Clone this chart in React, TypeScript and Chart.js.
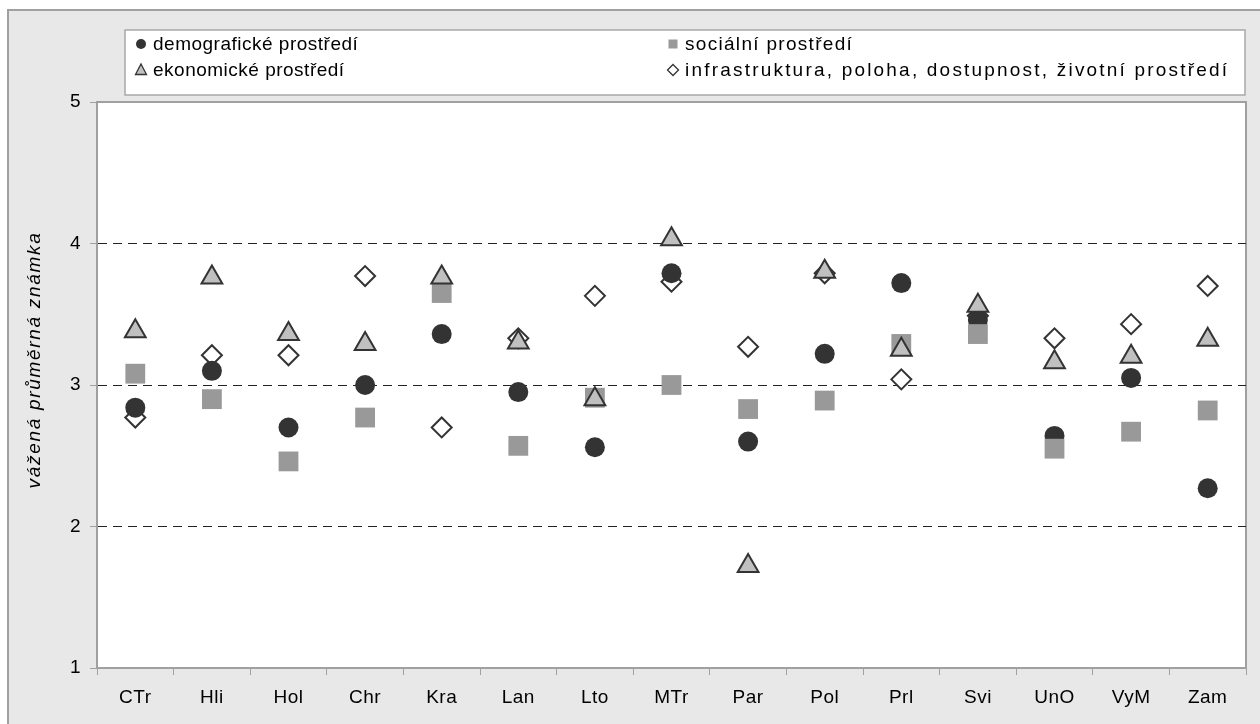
import React, { useEffect, useRef } from 'react';
import { Chart, registerables } from 'chart.js';

Chart.register(...registerables);

const categories = ['CTr', 'Hli', 'Hol', 'Chr', 'Kra', 'Lan', 'Lto', 'MTr', 'Par', 'Pol', 'Prl', 'Svi', 'UnO', 'VyM', 'Zam'];
const demograficke = [2.84, 3.10, 2.70, 3.00, 3.36, 2.95, 2.56, 3.79, 2.60, 3.22, 3.72, 3.46, 2.64, 3.05, 2.27];
const socialni = [3.08, 2.90, 2.46, 2.77, 3.65, 2.57, 2.91, 3.00, 2.83, 2.89, 3.29, 3.36, 2.55, 2.67, 2.82];
const ekonomicke = [3.38, 3.76, 3.36, 3.29, 3.76, 3.30, 2.90, 4.03, 1.72, 3.80, 3.25, 3.56, 3.16, 3.20, 3.32];
const infrastruktura = [2.77, 3.21, 3.21, 3.77, 2.70, 3.33, 3.63, 3.73, 3.27, 3.79, 3.04, 3.49, 3.33, 3.43, 3.70];
const seriesNames = [
  'demografické prostředí',
  'sociální prostředí',
  'ekonomické prostředí',
  'infrastruktura, poloha, dostupnost, životní prostředí',
];
const yTicks = [1, 2, 3, 4, 5];
const yTitle = 'vážená průměrná známka';

const FONT = '"Liberation Sans", Arial, sans-serif';
const legendSpacing = ['0.5px', '1.3px', '0.5px', '2.2px'];

function drawMarker(ctx: CanvasRenderingContext2D, kind: number, x: number, y: number) {
  ctx.save();
  ctx.beginPath();
  if (kind === 0) {
    ctx.fillStyle = '#333333';
    ctx.arc(x, y, 5, 0, Math.PI * 2);
    ctx.fill();
  } else if (kind === 1) {
    ctx.fillStyle = '#999999';
    ctx.fillRect(x - 4.5, y - 4.5, 9, 9);
  } else if (kind === 2) {
    ctx.moveTo(x, y - 6);
    ctx.lineTo(x + 5.5, y + 4.5);
    ctx.lineTo(x - 5.5, y + 4.5);
    ctx.closePath();
    ctx.fillStyle = '#c0c0c0';
    ctx.fill();
    ctx.strokeStyle = '#333333';
    ctx.lineWidth = 1.3;
    ctx.stroke();
  } else {
    ctx.moveTo(x, y - 5.5);
    ctx.lineTo(x + 5.5, y);
    ctx.lineTo(x, y + 5.5);
    ctx.lineTo(x - 5.5, y);
    ctx.closePath();
    ctx.fillStyle = '#ffffff';
    ctx.fill();
    ctx.strokeStyle = '#333333';
    ctx.lineWidth = 1.3;
    ctx.stroke();
  }
  ctx.restore();
}

const framePlugin = {
  id: 'frame',
  beforeDraw(chart: any) {
    const { ctx, chartArea: a, width, height } = chart;
    ctx.save();
    ctx.fillStyle = '#ffffff';
    ctx.fillRect(0, 0, width, height);
    ctx.fillStyle = '#e8e8e8';
    ctx.fillRect(8, 10, width - 8, height - 10);
    ctx.strokeStyle = '#a0a0a0';
    ctx.lineWidth = 2;
    ctx.beginPath();
    ctx.moveTo(8, height);
    ctx.lineTo(8, 10);
    ctx.lineTo(width, 10);
    ctx.stroke();
    ctx.fillStyle = '#ffffff';
    ctx.fillRect(a.left, a.top, a.right - a.left, a.bottom - a.top);
    ctx.strokeStyle = '#a0a0a0';
    ctx.lineWidth = 2;
    ctx.strokeRect(a.left, a.top, a.right - a.left, a.bottom - a.top);
    ctx.restore();
    (ctx as any).letterSpacing = '0.5px';
  },
  afterDraw(chart: any) {
    const { ctx, chartArea: a } = chart;
    ctx.save();
    const lx = 125, ly = 30, lw = 1120, lh = 65;
    ctx.fillStyle = '#ffffff';
    ctx.fillRect(lx, ly, lw, lh);
    ctx.strokeStyle = '#a8a8a8';
    ctx.lineWidth = 1.5;
    ctx.strokeRect(lx, ly, lw, lh);
    ctx.font = `19px ${FONT}`;
    ctx.fillStyle = '#000000';
    ctx.textBaseline = 'middle';
    ctx.textAlign = 'left';
    const cols = [141, 673];
    const rows = [44, 70];
    seriesNames.forEach((name, i) => {
      const cx = cols[i % 2];
      const cy = rows[Math.floor(i / 2)];
      drawMarker(ctx, i, cx, cy);
      (ctx as any).letterSpacing = legendSpacing[i];
      ctx.fillText(name, cx + 12, cy + 1);
    });
    ctx.translate(35, (a.top + a.bottom) / 2 - 25);
    ctx.rotate(-Math.PI / 2);
    ctx.font = `italic 19px ${FONT}`;
    (ctx as any).letterSpacing = '1.7px';
    ctx.textAlign = 'center';
    ctx.fillText(yTitle, 0, 0);
    ctx.restore();
  },
};

export default function App() {
  const ref = useRef<HTMLCanvasElement>(null);
  useEffect(() => {
    if (!ref.current) return;
    const chart = new Chart(ref.current, {
      type: 'line',
      data: {
        labels: categories,
        datasets: [
          {
            label: seriesNames[0],
            data: demograficke,
            showLine: false,
            pointStyle: 'circle',
            pointRadius: 10,
            backgroundColor: '#333333',
            borderColor: '#333333',
            pointBorderWidth: 0,
            order: 2,
          },
          {
            label: seriesNames[1],
            data: socialni,
            showLine: false,
            pointStyle: 'rect',
            pointRadius: 14,
            backgroundColor: '#999999',
            borderColor: '#999999',
            pointBorderWidth: 0,
            order: 1,
          },
          {
            label: seriesNames[2],
            data: ekonomicke,
            showLine: false,
            pointStyle: 'triangle',
            pointRadius: 12,
            backgroundColor: '#c0c0c0',
            borderColor: '#333333',
            pointBorderWidth: 2,
            order: 0,
          },
          {
            label: seriesNames[3],
            data: infrastruktura,
            showLine: false,
            pointStyle: 'rectRot',
            pointRadius: 10,
            backgroundColor: '#ffffff',
            borderColor: '#333333',
            pointBorderWidth: 2,
            order: 3,
          },
        ],
      },
      options: {
        responsive: false,
        animation: false,
        events: [],
        layout: { padding: { top: 102, left: 0, right: 12, bottom: 0 } },
        plugins: { legend: { display: false }, tooltip: { enabled: false } },
        scales: {
          x: {
            offset: true,
            grid: {
              offset: true,
              drawOnChartArea: false,
              drawTicks: true,
              tickLength: 7,
              tickColor: '#a0a0a0',
              tickWidth: 1,
            },
            border: { display: true, color: '#a0a0a0', width: 2 },
            ticks: {
              color: '#000000',
              font: { family: FONT, size: 19 },
              padding: 11,
              maxRotation: 0,
              autoSkip: false,
            },
            afterFit: (s: any) => {
              s.height = 56;
            },
          },
          y: {
            min: 1,
            max: 5,
            afterBuildTicks: (s: any) => {
              s.ticks = yTicks.map((v) => ({ value: v }));
            },
            grid: {
              color: (c: any) => (c.tick && c.tick.value > 1 && c.tick.value < 5 ? '#222222' : 'rgba(0,0,0,0)'),
              lineWidth: 1,
              drawTicks: true,
              tickLength: 7,
              tickColor: '#a0a0a0',
              tickWidth: 1,
              tickBorderDash: [],
            },
            border: { display: true, color: '#a0a0a0', width: 2, dash: [9, 6] },
            ticks: {
              color: '#000000',
              font: { family: FONT, size: 19 },
              padding: 9,
            },
            afterFit: (s: any) => {
              s.width = 97;
            },
          },
        },
      },
      plugins: [framePlugin],
    });
    return () => chart.destroy();
  }, []);
  return (
    <div style={{ position: 'fixed', left: 0, top: 0, width: 1260, height: 724 }}>
      <canvas ref={ref} width={1260} height={724} style={{ display: 'block', width: 1260, height: 724 }} />
    </div>
  );
}
